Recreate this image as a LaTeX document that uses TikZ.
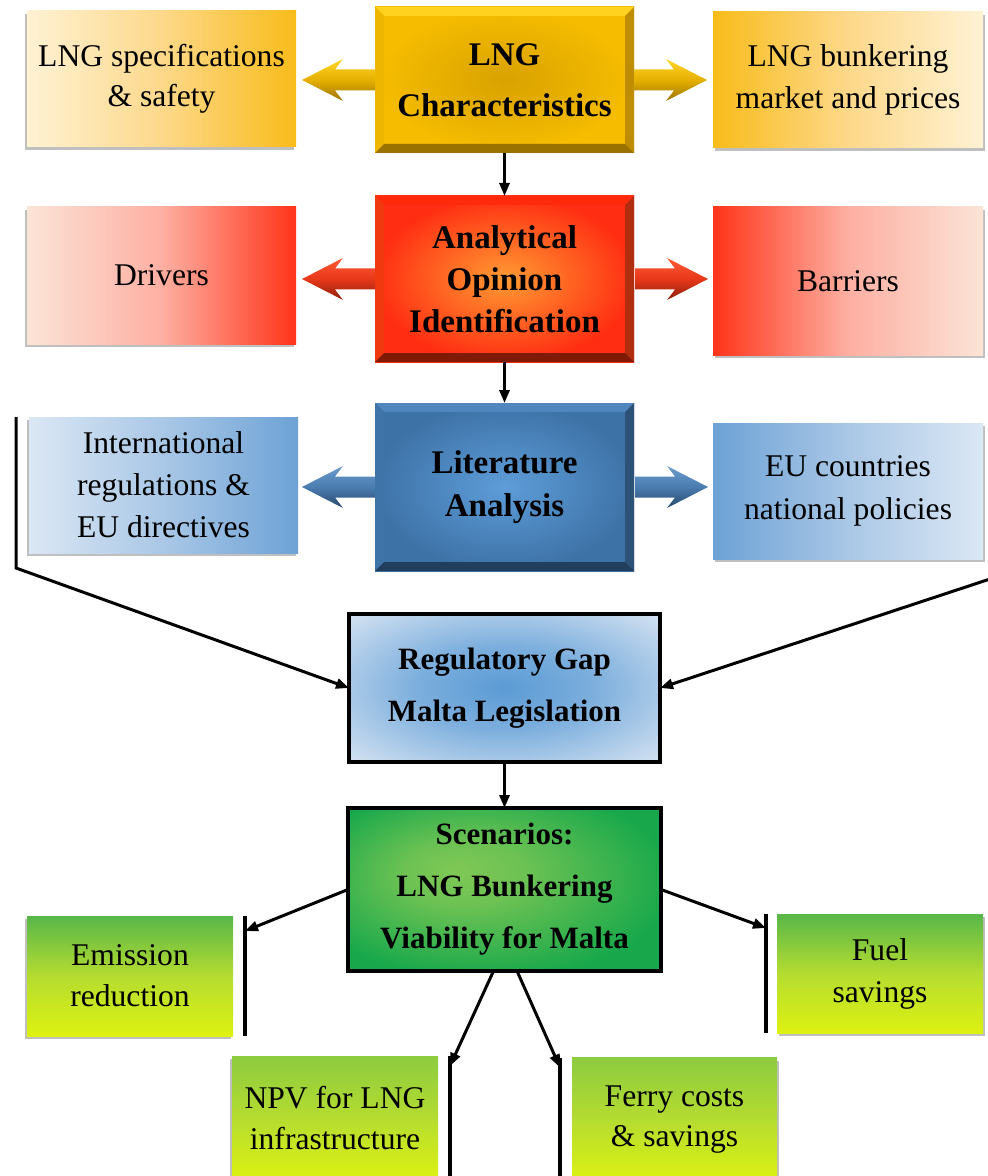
\documentclass[tikz,border=0pt]{standalone}
\usepackage{fontspec}
\setmainfont{Liberation Serif}
\usetikzlibrary{arrows.meta,calc,shadows}

% bevel box colours
\definecolor{goldIn}{HTML}{D9A200}
\definecolor{goldOut}{HTML}{F6BD00}
\definecolor{goldTop}{HTML}{FFD21F}
\definecolor{goldLeft}{HTML}{EDB600}
\definecolor{goldRight}{HTML}{BE8E00}
\definecolor{goldBot}{HTML}{9A7200}
\definecolor{redIn}{HTML}{FF9B33}
\definecolor{redOut}{HTML}{FF2E12}
\definecolor{redTop}{HTML}{FF2A0C}
\definecolor{redLeft}{HTML}{F0390F}
\definecolor{redRight}{HTML}{B02D10}
\definecolor{redBot}{HTML}{7E1A06}
\definecolor{bluIn}{HTML}{5E9DD9}
\definecolor{bluOut}{HTML}{3D72A6}
\definecolor{bluTop}{HTML}{4F86BE}
\definecolor{bluLeft}{HTML}{3E74A8}
\definecolor{bluRight}{HTML}{2C5278}
\definecolor{bluBot}{HTML}{213F5C}
% framed boxes
\definecolor{regIn}{HTML}{5B9BD5}
\definecolor{regOut}{HTML}{DCE7F4}
\definecolor{scnIn}{HTML}{80C855}
\definecolor{scnOut}{HTML}{18A84B}
% side boxes
\definecolor{specL}{HTML}{FEF2D4}
\definecolor{specM}{HTML}{FDD88A}
\definecolor{specR}{HTML}{F8BC1A}
\definecolor{drvL}{HTML}{FBE4D7}
\definecolor{drvM}{HTML}{FDAFA2}
\definecolor{drvR}{HTML}{FF3419}
\definecolor{intL}{HTML}{DBE7F4}
\definecolor{intM}{HTML}{A9C7E6}
\definecolor{intR}{HTML}{6DA2D6}
\definecolor{grnT}{HTML}{58B749}
\definecolor{grnT2}{HTML}{8DCB3F}
\definecolor{grnM}{HTML}{B5DC30}
\definecolor{grnB}{HTML}{DDF211}
% block arrows
\definecolor{gaT}{HTML}{FFD629}
\definecolor{gaM}{HTML}{E5B000}
\definecolor{gaB}{HTML}{9A7300}
\definecolor{raT}{HTML}{FF5A36}
\definecolor{raM}{HTML}{E8381A}
\definecolor{raB}{HTML}{8A200C}
\definecolor{baT}{HTML}{6C9CCC}
\definecolor{baM}{HTML}{4A7CB0}
\definecolor{baB}{HTML}{27496C}

% soft blue centre for the regulatory gap box
\pgfdeclareradialshading{regshade}{\pgfpoint{0bp}{0bp}}{%
  color(0bp)=(regIn); color(14bp)=(regIn!75!regOut); color(34bp)=(regOut!90!regIn); color(50bp)=(regOut)}
% lighter patch left of centre in the scenarios box
\pgfdeclareradialshading{scnshade}{\pgfpoint{-8bp}{6bp}}{%
  color(0bp)=(scnIn); color(10bp)=(scnIn!80!scnOut); color(30bp)=(scnOut); color(50bp)=(scnOut)}

\tikzset{
  bevel/.style n args={4}{path picture={
    \coordinate (q1) at (path picture bounding box.north west);
    \coordinate (q2) at (path picture bounding box.north east);
    \coordinate (q3) at (path picture bounding box.south east);
    \coordinate (q4) at (path picture bounding box.south west);
    \fill[#1] (q1) -- (q2) -- ([xshift=-4.5pt,yshift=-4.5pt]q2) -- ([xshift=4.5pt,yshift=-4.5pt]q1) -- cycle;
    \fill[#2] (q1) -- ([xshift=4.5pt,yshift=-4.5pt]q1) -- ([xshift=4.5pt,yshift=4.5pt]q4) -- (q4) -- cycle;
    \fill[#3] (q2) -- (q3) -- ([xshift=-4.5pt,yshift=4.5pt]q3) -- ([xshift=-4.5pt,yshift=-4.5pt]q2) -- cycle;
    \fill[#4] (q4) -- ([xshift=4.5pt,yshift=4.5pt]q4) -- ([xshift=-4.5pt,yshift=4.5pt]q3) -- (q3) -- cycle;
  }},
  blockL/.pic={\path[pic actions] (0,0) -- (41,-21) -- (33,-10.5) -- (73,-10.5) -- (73,10.5) -- (33,10.5) -- (41,21) -- cycle;},
  blockR/.pic={\path[pic actions] (0,0) -- (-41,-21) -- (-33,-10.5) -- (-73,-10.5) -- (-73,10.5) -- (-33,10.5) -- (-41,21) -- cycle;},
}

\begin{document}
\begin{tikzpicture}[x=0.5pt,y=-0.5pt,
  every node/.style={inner sep=0pt, outer sep=0pt, align=center, text=black},
  box/.style 2 args={minimum width=#1*0.5pt, minimum height=#2*0.5pt},
  plain/.style={font=\fontsize{15.8}{#1}\selectfont},
  plain/.default=20.5,
  head/.style={font=\bfseries\fontsize{16.5}{#1}\selectfont},
  framedhead/.style={font=\bfseries\fontsize{15.5}{#1}\selectfont},
  shL/.style={drop shadow={shadow xshift=-1.2pt, shadow yshift=-1.5pt, opacity=0.25, fill=black}},
  shR/.style={drop shadow={shadow xshift=1.2pt, shadow yshift=-1.5pt, opacity=0.25, fill=black}},
  goldbox/.style={shading=radial, inner color=goldIn, outer color=goldOut,
    bevel={goldTop}{goldLeft}{goldRight}{goldBot}},
  redbox/.style={shading=radial, inner color=redIn, outer color=redOut,
    bevel={redTop}{redLeft}{redRight}{redBot}},
  bluebox/.style={shading=radial, inner color=bluIn, outer color=bluOut,
    bevel={bluTop}{bluLeft}{bluRight}{bluBot}},
  framed/.style={draw=black, line width=1.7pt},
  goldarrow/.style={top color=gaT, bottom color=gaB, middle color=gaM},
  redarrow/.style={top color=raT, bottom color=raB, middle color=raM},
  bluearrow/.style={top color=baT, bottom color=baB, middle color=baM},
  greenbox/.style={top color=#1, bottom color=grnB, middle color=grnM},
  greenbox/.default=grnT,
  conn/.style={draw=black, line width=1.5pt, -{Triangle[length=6.5pt,width=5pt]}},
  bar/.style={draw=black, line width=1.7pt},
]
\useasboundingbox (0,0) rectangle (987,1176);

% --- top row
\node[box={269}{136}, shading=axis, left color=specL, right color=specR, middle color=specM, shL, plain=20]
  (spec) at (161.5,79) {LNG specifications\\\& safety};
\node[box={259}{146}, goldbox, head=25.5] (char) at (504.5,80) {LNG\\Characteristics};
\node[box={270}{136}, shading=axis, left color=specR, right color=specL, middle color=specM, shR, plain=21]
  (bunk) at (848,80) {LNG bunkering\\market and prices};

% --- second row
\node[box={269}{137}, shading=axis, left color=drvL, right color=drvR, middle color=drvM, shL, plain]
  (drv) at (161.5,275.5) {Drivers};
\node[box={259}{166}, redbox, head=21] (anal) at (504.5,279) {Analytical\\Opinion\\Identification};
\node[box={270}{148}, shading=axis, left color=drvR, right color=drvL, middle color=drvM, shR, plain]
  (barr) at (848,281) {Barriers};

% --- third row
\node[box={269}{136}, shading=axis, left color=intL, right color=intR, middle color=intM, shL, plain=21]
  (intl) at (163.5,485) {International\\regulations \&\\EU directives};
\node[box={259}{168}, bluebox, head=21.5] (lit) at (504.5,487) {Literature\\Analysis};
\node[box={270}{136}, shading=axis, left color=intR, right color=intL, middle color=intM, shR, plain=21.5]
  (eu) at (848,491) {EU countries\\national policies};

% --- centre column
\node[box={311}{148}, framed, shading=regshade, framedhead=26]
  (reg) at (504.5,688) {Regulatory Gap\\Malta Legislation};
\node[box={313}{163}, framed, shading=scnshade, framedhead=26]
  (scen) at (504.5,889.5) {Scenarios:\\LNG Bunkering\\Viability for Malta};

% --- outcome boxes
\node[box={206}{120}, greenbox, shL, plain] (emis) at (130,976) {Emission\\reduction};
\node[box={206}{119}, greenbox, shR, plain=21] (fuel) at (880,973.5) {Fuel\\savings};
\node[box={206}{124}, greenbox=grnT2, shL, plain] (npv) at (335,1118) {NPV for LNG\\infrastructure};
\node[box={205}{124}, greenbox=grnT2, shR, plain=20] (ferry) at (674.5,1119.5) {Ferry costs\\\& savings};

% --- block arrows out of the bevelled boxes
\pic[goldarrow] at ($(spec.east |- char.west)+(6,0)$) {blockL};
\pic[goldarrow] at ($(bunk.west |- char.east)+(-6,0)$) {blockR};
\pic[redarrow] at ($(drv.east |- anal.west)+(6,0)$) {blockL};
\pic[redarrow] at ($(barr.west |- anal.east)+(-5,0)$) {blockR};
\pic[bluearrow] at ($(intl.east |- lit.west)+(4,0)$) {blockL};
\pic[bluearrow] at ($(eu.west |- lit.east)+(-5,0)$) {blockR};

% --- main flow
\draw[conn] (char) -- (anal);
\draw[conn] (anal) -- (lit);
\draw[conn] (reg) -- (scen);

% --- inputs to the regulatory gap
\coordinate (lbarTop) at (16,417);
\coordinate (lbarBot) at (16,568);
\coordinate (rlineStart) at (990,579);
\draw[conn, line join=miter] (lbarTop) -- (lbarBot) -- (reg.west);
\draw[conn] (rlineStart) -- (reg.east);

% --- scenario outcomes, each ending on a bar beside its box
\draw[bar] ([xshift=6pt]emis.north east) -- ([xshift=6pt]emis.south east);
\draw[conn] (scen.west) -- ($(emis.north east)+(12,15)$);
\draw[bar] ([xshift=-5.5pt]fuel.north west) -- ([xshift=-5.5pt]fuel.south west);
\draw[conn] (scen.east) -- ($(fuel.north west)+(-11,14)$);
\draw[bar] ([xshift=6pt]npv.north east) -- ([xshift=6pt]npv.south east);
\draw[conn] ([xshift=-5.5pt]scen.south) -- ($(npv.north east)+(12,10)$);
\draw[bar] ([xshift=-6pt]ferry.north west) -- ([xshift=-6pt]ferry.south west);
\draw[conn] ([xshift=6.25pt]scen.south) -- ($(ferry.north west)+(-12,10)$);
\end{tikzpicture}
\end{document}
